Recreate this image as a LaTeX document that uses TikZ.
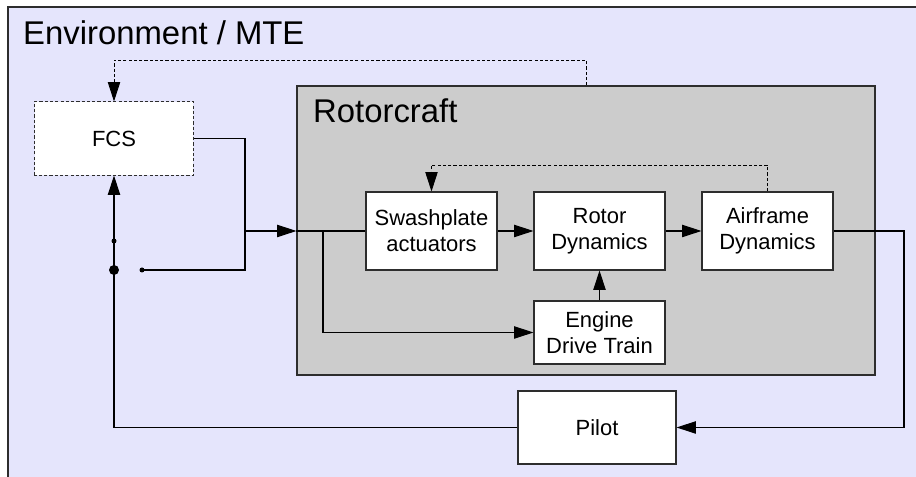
\documentclass[tikz,border=0pt]{standalone}
\usepackage{fontspec}
\setmainfont{Liberation Sans}
\usetikzlibrary{arrows.meta}

\definecolor{envblue}{RGB}{229,229,252}
\definecolor{craftgray}{RGB}{204,204,204}
\definecolor{edge}{RGB}{45,45,45}

\begin{document}
\begin{tikzpicture}[>={Triangle[length=11pt,width=7pt]},
    block/.style={draw=edge, fill=white, line width=0.6pt, inner sep=0pt,
        minimum width=2.62cm, minimum height=1.56cm, align=center,
        font=\fontsize{12.5}{14.8}\selectfont},
    wire/.style={line width=0.6pt},
    guide/.style={line width=0.5pt, dash pattern=on 1.8pt off 1.2pt},
    heading/.style={anchor=base west, font=\fontsize{18.7}{22}\selectfont}]
    \useasboundingbox (0,0) rectangle (18.32,9.54);
    \clip (0,0) rectangle (18.32,9.54);

    % environment and rotorcraft frames
    \draw[draw=edge, fill=envblue, line width=0.6pt] (0.16,9.40) rectangle (19,-1);
    \node[heading] (envlabel) at (0.34,8.64) {Environment / MTE};

    \node[draw=edge, fill=craftgray, line width=0.6pt, inner sep=0pt,
        minimum width=11.56cm, minimum height=5.78cm] (craft) at (11.72,4.93) {};
    \node[heading] (craftlabel) at (6.14,7.08) {Rotorcraft};

    % blocks
    \node[block, draw=none, minimum width=3.16cm, minimum height=1.46cm] (fcs) at (2.28,6.77) {FCS};
    \draw[guide, draw=edge] (fcs.south west) rectangle (fcs.north east);
    \node[block] (swash) at (8.63,4.92) {Swashplate\\actuators};
    \node[block] (rotor) at (11.99,4.92) {Rotor\\Dynamics};
    \node[block] (airframe) at (15.35,4.92) {Airframe\\Dynamics};
    \node[block, minimum height=1.26cm] (engine) at (11.99,2.89) {Engine\\Drive Train};
    \node[block, minimum width=3.16cm, minimum height=1.46cm] (pilot) at (11.94,0.99) {Pilot};

    \coordinate (join) at (4.90,4.92);
    \coordinate (contact) at (2.84,4.14);
    \coordinate (pole) at (2.28,4.14);
    \coordinate (tap) at (2.28,4.72);
    \coordinate (entry) at (craft.west |- swash);
    \coordinate (branch) at (6.46,4.92);
    \coordinate (outturn) at (18.08,4.92);
    \coordinate (loopback) at (15.35,6.24);
    \coordinate (craftout) at (11.72,8.34);

    % signal paths
    \draw[wire] (fcs.east) -| (join) |- (contact);
    \draw[wire,->] (join) -- (entry);
    \draw[wire] (entry) -- (swash.west);
    \draw[wire,->] (branch) |- (engine.west);
    \draw[wire,->] (swash) -- (rotor);
    \draw[wire,->] (rotor) -- (airframe);
    \draw[wire,->] (engine) -- (rotor);
    \draw[wire,->] (airframe.east) -- (outturn) |- (pilot.east);
    \draw[wire] (pilot.west) -| (pole);
    \draw[wire,->] (pole) -- (fcs.south);

    % pilot / FCS switch
    \fill (pole) circle (0.1);
    \fill (tap) circle (0.05);
    \fill (contact) circle (0.05);

    % feedback of state
    \draw[guide,->] (airframe.north) -- (loopback) -| (swash.north);
    \draw[guide,->] (craft.north) -- (craftout) -| (fcs.north);
\end{tikzpicture}
\end{document}
